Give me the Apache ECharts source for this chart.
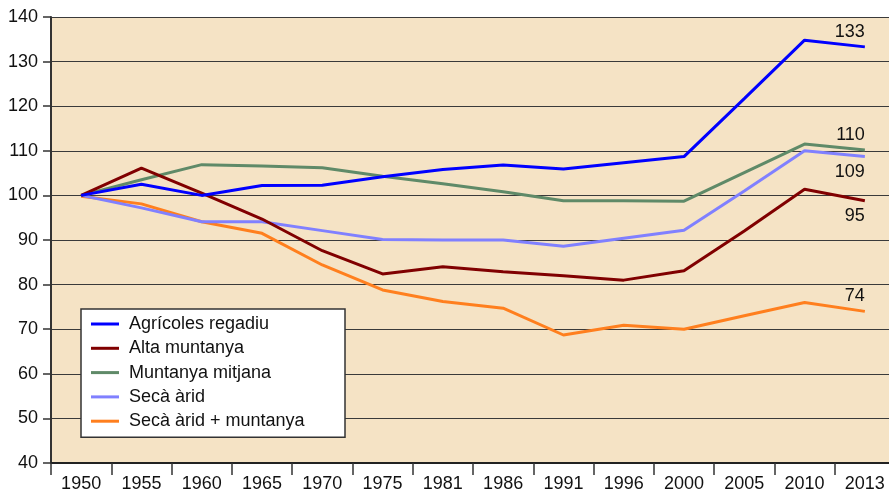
<!DOCTYPE html>
<html>
<head>
<meta charset="utf-8">
<script src="https://cdn.jsdelivr.net/npm/echarts@6/dist/echarts.min.js"></script>
<style>
  html, body { margin: 0; padding: 0; background: #fff; overflow: hidden; }
  #chart { width: 895px; height: 493px; }
</style>
</head>
<body>
<div id="chart"></div>
<script>
const years = ['1950', '1955', '1960', '1965', '1970', '1975', '1981', '1986', '1991', '1996', '2000', '2005', '2010', '2013'];

const names = ['Agrícoles regadiu', 'Alta muntanya', 'Muntanya mitjana', 'Secà àrid', 'Secà àrid + muntanya'];
const colors = ['#0000ff', '#800000', '#5f8a68', '#8080ff', '#ff7f1e'];

const regadiu = [100, 102.5, 100, 102.2, 102.3, 104.2, 105.8, 106.8, 105.9, 107.3, 108.7, 121.7, 134.8, 133.3];
const altaMuntanya = [100, 106.1, 100.5, 94.7, 87.6, 82.4, 84.0, 82.9, 82.0, 81.0, 83.1, 92.0, 101.4, 98.8];
const muntanyaMitjana = [100, 103.5, 106.9, 106.6, 106.2, 104.3, 102.6, 100.8, 98.8, 98.8, 98.7, 105.1, 111.5, 110.2];
const secaArid = [100, 97.2, 94.1, 94.1, 92.1, 90.1, 90, 90, 88.6, 90.4, 92.2, 101, 110.0, 108.7];
const secaMuntanya = [99.8, 98.1, 94.1, 91.5, 84.4, 78.8, 76.2, 74.7, 68.7, 70.9, 70.0, 73, 76.0, 74.0];

const endLabels = ['133', '95', '110', '109', '74'];
const endLabelSide = ['top', 'bottom', 'top', 'bottom', 'top'];

const allSeries = [regadiu, altaMuntanya, muntanyaMitjana, secaArid, secaMuntanya];

const font = "'Liberation Sans', Arial, sans-serif";

// plot area runs slightly past the right edge of the picture, so the div is 6px wider
const chart = echarts.init(document.getElementById('chart'));

const series = allSeries.map((values, i) => ({
  name: names[i],
  type: 'line',
  symbol: 'circle',
  symbolSize: 0,
  showSymbol: true,
  lineStyle: { color: colors[i], width: 3 },
  itemStyle: { color: colors[i] },
  z: 10 - i,
  data: values.map((v, j) => {
    if (j !== values.length - 1) return v;
    return {
      value: v,
      label: {
        show: true,
        formatter: endLabels[i],
        position: endLabelSide[i],
        align: 'right',
        distance: 6,
        color: '#111',
        fontSize: 18,
        fontFamily: font
      }
    };
  })
}));

chart.setOption({
  animation: false,
  backgroundColor: '#fff',
  grid: {
    left: 51,
    top: 17,
    right: 0,
    bottom: 30,
    show: true,
    backgroundColor: '#f5e3c5',
    borderWidth: 0
  },
  legend: {
    orient: 'vertical',
    left: 81,
    top: 309,
    data: names,
    icon: 'rect',
    itemWidth: 28,
    itemHeight: 3,
    itemGap: 4.3,
    backgroundColor: '#fff',
    borderColor: '#333',
    borderWidth: 1.5,
    borderRadius: 0,
    padding: [5, 10, 6, 10],
    textStyle: {
      color: '#111',
      fontSize: 18,
      fontFamily: font,
      lineHeight: 20,
      width: 206,
      padding: [0, 0, 0, 5]
    }
  },
  xAxis: {
    type: 'category',
    data: years,
    boundaryGap: true,
    axisLine: { show: true, lineStyle: { color: '#222', width: 2 } },
    axisTick: { show: true, length: 12, interval: 0, lineStyle: { color: '#333', width: 1.5 } },
    axisLabel: { interval: 0, margin: 12, color: '#111', fontSize: 18, fontFamily: font },
    splitLine: { show: false }
  },
  yAxis: {
    type: 'value',
    min: 40,
    max: 140,
    interval: 10,
    axisLine: { show: true, lineStyle: { color: '#333', width: 2 } },
    axisTick: { show: true, length: 8, lineStyle: { color: '#333', width: 1.5 } },
    axisLabel: { margin: 13, color: '#111', fontSize: 18, fontFamily: font },
    splitLine: { show: true, lineStyle: { color: '#3a3a3a', width: 1.2 } }
  },
  series: series
});
</script>
</body>
</html>
